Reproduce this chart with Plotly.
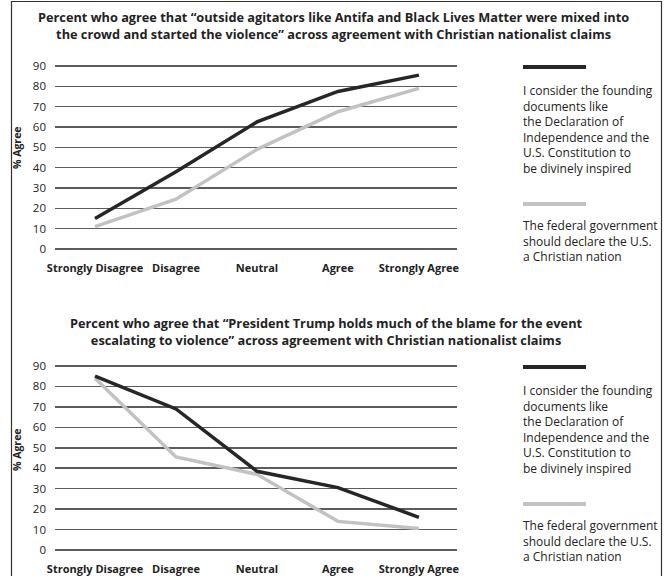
import plotly.graph_objects as go

W, H = 668, 576

categories = ["Strongly Disagree", "Disagree", "Neutral", "Agree", "Strongly Agree"]
series_names = [
    "I consider the founding<br>documents like<br>the Declaration of<br>Independence and the<br>U.S. Constitution to<br>be divinely inspired",
    "The federal government<br>should declare the U.S.<br>a Christian nation",
]
series_colors = ["#262626", "#c2c2c2"]

agitators_founding = [15, 38, 62.5, 77.5, 85.5]
agitators_nation = [11, 24.5, 49, 67.5, 79]
trump_founding = [85, 69, 38.5, 30.5, 16]
trump_nation = [84, 45.5, 37, 14, 10.5]

titles = [
    "Percent who agree that “outside agitators like Antifa and Black Lives Matter were mixed into<br>the crowd and started the violence” across agreement with Christian nationalist claims",
    "Percent who agree that “President Trump holds much of the blame for the event<br>escalating to violence” across agreement with Christian nationalist claims",
]
y_ticks = [0, 10, 20, 30, 40, 50, 60, 70, 80, 90]
y_title = "% Agree"

FONT = "Open Sans"


def px(x):
    return x / W


def py(y):
    return 1 - y / H


fig = go.Figure()

panels = [
    ("x", "y", [agitators_founding, agitators_nation]),
    ("x2", "y2", [trump_founding, trump_nation]),
]
# draw gray first then black on top
for xa, ya, data in panels:
    for i in [1, 0]:
        fig.add_trace(go.Scatter(
            x=categories, y=data[i], xaxis=xa, yaxis=ya, mode="lines",
            line=dict(color=series_colors[i], width=3.5),
            name=series_names[i].replace("<br>", " "), showlegend=False,
            cliponaxis=False, hoverinfo="skip",
        ))

axis_common_x = dict(
    type="category", range=[-0.494, 4.47], showgrid=False, zeroline=False,
    showline=False, ticks="", ticklabelstandoff=9, automargin=False,
    tickfont=dict(family=FONT, size=11, color="#222", weight="bold"),
)
axis_common_y = dict(
    range=[-1, 91], tickvals=y_ticks, showgrid=True, gridcolor="#5c5c5c",
    gridwidth=1.6, zeroline=False, showline=False, ticks="",
    ticklabelstandoff=8, automargin=False,
    tickfont=dict(family=FONT, size=11.5, color="#222"),
)

# value 0 -> 249px / 90 -> 66px (top);  0 -> 550px / 90 -> 366px (bottom)
u1 = (249 - 66) / 90
u2 = (550 - 366) / 90
dom_x = [px(55), px(457)]
fig.update_layout(
    template="none",
    width=W, height=H,
    margin=dict(l=0, r=0, t=0, b=0, autoexpand=False),
    paper_bgcolor="white", plot_bgcolor="white",
    font=dict(family=FONT, color="#222"),
    xaxis=dict(domain=dom_x, anchor="y", **axis_common_x),
    yaxis=dict(domain=[py(249 + u1), py(66 - u1)], anchor="x", **axis_common_y),
    xaxis2=dict(domain=dom_x, anchor="y2", **axis_common_x),
    yaxis2=dict(domain=[py(550 + u2), py(366 - u2)], anchor="x2", **axis_common_y),
    showlegend=False,
)

annotations = []
shapes = []

# titles
for t, (xc, yc) in zip(titles, [(333, 26), (326, 331)]):
    annotations.append(dict(
        text=t, xref="paper", yref="paper", x=px(xc), y=py(yc),
        xanchor="center", yanchor="middle", showarrow=False, align="center",
        font=dict(family=FONT, size=12.75, color="#222", weight="bold"),
    ))

# y-axis titles
for yc in [148, 450]:
    annotations.append(dict(
        text=y_title, xref="paper", yref="paper", x=px(17), y=py(yc),
        xanchor="center", yanchor="middle", showarrow=False, textangle=-90,
        font=dict(family=FONT, size=10.5, color="#222", weight="bold"),
    ))

# custom legends
for off in [0, 300]:
    for i, (ly, ty) in enumerate([(67, 80), (204, 215)]):
        shapes.append(dict(
            type="line", xref="paper", yref="paper",
            x0=px(523), x1=px(586), y0=py(ly + off), y1=py(ly + off),
            line=dict(color=series_colors[i], width=4),
        ))
        annotations.append(dict(
            text=series_names[i], xref="paper", yref="paper",
            x=px(521), y=py(ty + off), xanchor="left", yanchor="top",
            showarrow=False, align="left",
            font=dict(family=FONT, size=12, color="#222"),
        ))

# border
shapes.append(dict(
    type="rect", xref="paper", yref="paper",
    x0=px(11.5), x1=px(661.5), y0=py(590), y1=py(1.5),
    line=dict(color="#333", width=1.2),
))

fig.update_layout(annotations=annotations, shapes=shapes)
fig.write_html(
    "out.html",
    config={"displayModeBar": False, "staticPlot": True},
    post_script="document.body.style.margin='0';document.body.style.overflow='hidden';",
)
